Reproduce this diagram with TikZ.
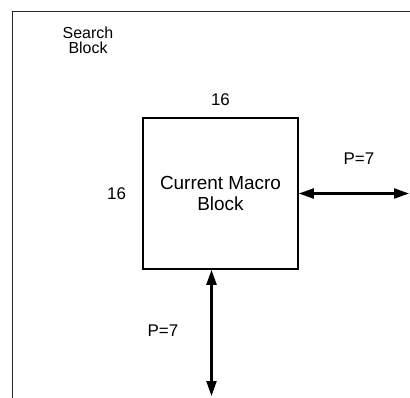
\documentclass[tikz,border=0pt]{standalone}
\usepackage{fontspec}
\setmainfont{Liberation Sans}
\usetikzlibrary{arrows.meta,positioning}

\begin{document}
\begin{tikzpicture}[
  x=1bp, y=-1bp,
  font=\fontsize{16}{15}\selectfont,
  frame/.style={draw=black!85, line width=0.9bp},
  mbox/.style={
    draw,
    line width=1.6bp,
    align=center,
    minimum width=155bp,
    minimum height=151bp,
    font=\fontsize{19}{21}\selectfont
  },
  lbl/.style={inner sep=0pt, font=\fontsize{17}{17}\selectfont},
  arrow/.style={{Triangle[length=15bp,width=10bp]}-{Triangle[length=15bp,width=10bp]}, line width=2.2bp}
]
\useasboundingbox (0,0) rectangle (410,398);
% search block frame (runs off the page on the right and bottom)
\draw[frame] (12,398) -- (12,11) -- (410,11);
\node[align=center] (search) at (88,40) {Search\\Block};

\node[mbox] (mb) at (220.5,193.5) {Current Macro\\Block};
\node[lbl, above=11bp of mb] (w) {16};
\node[lbl, left=16bp of mb] (h) {16};

\coordinate (rtip) at (409,193.5);
\coordinate (btip) at (211.5,396);
\node[lbl] (pr) at (359,159) {P=7};
\node[lbl] (pb) at (163,331) {P=7};

\draw[arrow] (mb.east) -- (rtip);
\draw[arrow] (mb.south -| btip) -- (btip);
\end{tikzpicture}
\end{document}
